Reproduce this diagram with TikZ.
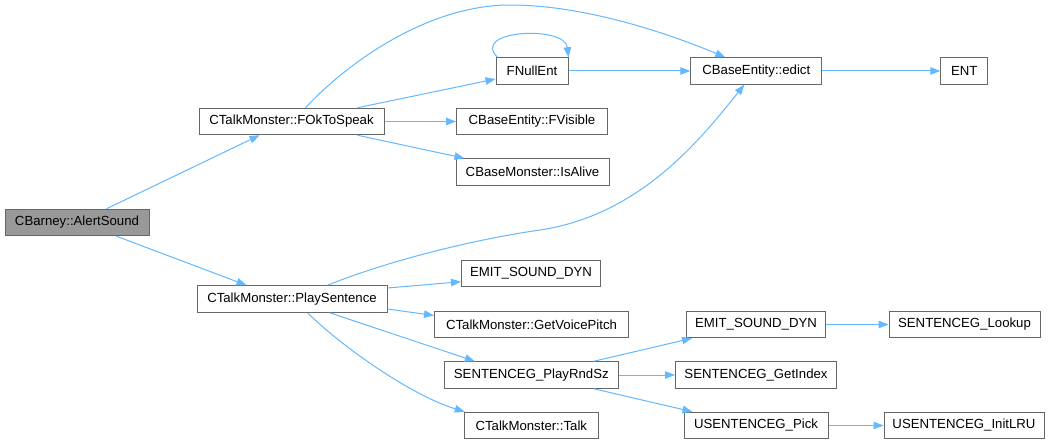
\documentclass[tikz,border=0pt]{standalone}
\usepackage{fontspec}
\setmainfont{Liberation Sans}
\usetikzlibrary{arrows.meta,calc}
\definecolor{edgeblue}{HTML}{63B8FF}
\definecolor{boxborder}{HTML}{666666}
\definecolor{rootfill}{HTML}{999999}
\tikzset{
  fn/.style={draw=boxborder, fill=white, line width=1pt, minimum height=26.5pt, inner sep=0pt,
    font=\fontsize{13.2}{15}\selectfont, text=black},
  root/.style={fn, fill=rootfill},
  call/.style={draw=edgeblue, line width=1pt, -{Triangle[length=10pt,width=7.5pt]}},
}
\begin{document}
\begin{tikzpicture}[x=1pt,y=-1pt]
\fill[white] (0,0) rectangle (1049,444);
\useasboundingbox (0,0) rectangle (1049,444);

% nodes
\node[root, minimum width=144pt] (alert) at (77,222.5) {CBarney::AlertSound};
\node[fn, minimum width=185pt] (fok) at (291.5,121.5) {CTalkMonster::FOkToSpeak};
\node[fn, minimum width=190pt] (play) at (292,299) {CTalkMonster::PlaySentence};
\node[fn, minimum width=72pt] (fnull) at (532,71) {FNullEnt};
\node[fn, minimum width=151pt] (fvis) at (532,121.5) {CBaseEntity::FVisible};
\node[fn, minimum width=153pt] (alive) at (532.5,172) {CBaseMonster::IsAlive};
\node[fn, minimum width=139pt] (emita) at (531,273.7) {EMIT\_SOUND\_DYN};
\node[fn, minimum width=194pt] (pitch) at (531.5,324.5) {CTalkMonster::GetVoicePitch};
\node[fn, minimum width=174pt] (rnd) at (531.3,375) {SENTENCEG\_PlayRndSz};
\node[fn, minimum width=134pt] (talk) at (531.3,425.5) {CTalkMonster::Talk};
\node[fn, minimum width=131pt] (edict) at (756.3,71) {CBaseEntity::edict};
\node[fn, minimum width=47pt] (ent) at (964.3,71) {ENT};
\node[fn, minimum width=139pt] (emitb) at (756,324.5) {EMIT\_SOUND\_DYN};
\node[fn, minimum width=161pt] (gidx) at (756,375) {SENTENCEG\_GetIndex};
\node[fn, minimum width=144pt] (pick) at (756,425.5) {USENTENCEG\_Pick};
\node[fn, minimum width=151pt] (lookup) at (964.5,324.5) {SENTENCEG\_Lookup};
\node[fn, minimum width=160pt] (initlru) at (964,425.5) {USENTENCEG\_InitLRU};

% edges
\draw[call] ($(alert.north west)+(102,0)$) -- ($(fok.south west)+(61,0)$);
\draw[call] ($(alert.south west)+(112,0)$) -- ($(play.north west)+(50,0)$);

\draw[call] ($(fok.north west)+(107,0)$) .. controls (350,60) and (430,5) .. (510,5)
  .. controls (580,5) and (660,30) .. ($(edict.north west)+(35,0)$);
\draw[call] ($(fok.north west)+(159,0)$) -- ($(fnull.west)+(0,8)$);
\draw[call] (fok.east) -- (fvis.west);
\draw[call] ($(fok.south west)+(159,0)$) -- ($(alive.north west)+(9,0)$);

\draw[call] ($(fnull.north west)+(2,0)$) .. controls (470,30) and (565,25) .. (fnull.north east);
\draw[call] (fnull.east) -- (edict.west);
\draw[call] (edict.east) -- (ent.west);

\draw[call] ($(play.north west)+(131,0)$) .. controls (385,262) and (470,240) .. (540,230)
  .. controls (640,215) and (700,140) .. ($(edict.south west)+(54,0)$);
\draw[call] ($(play.east)+(0,-11)$) -- ($(emita.west)+(0,8)$);
\draw[call] ($(play.east)+(0,10)$) -- ($(pitch.west)+(0,-9)$);
\draw[call] ($(play.south west)+(133,0)$) -- ($(rnd.north west)+(31,0)$);
\draw[call] ($(play.south west)+(111,0)$) .. controls (340,345) and (410,395) .. ($(talk.north west)+(1,0)$);

\draw[call] ($(rnd.north west)+(150,0)$) -- ($(emitb.south west)+(6,0)$);
\draw[call] (rnd.east) -- (gidx.west);
\draw[call] ($(rnd.south west)+(150,0)$) -- ($(pick.north west)+(9,0)$);
\draw[call] (emitb.east) -- (lookup.west);
\draw[call] (pick.east) -- (initlru.west);
\end{tikzpicture}
\end{document}
